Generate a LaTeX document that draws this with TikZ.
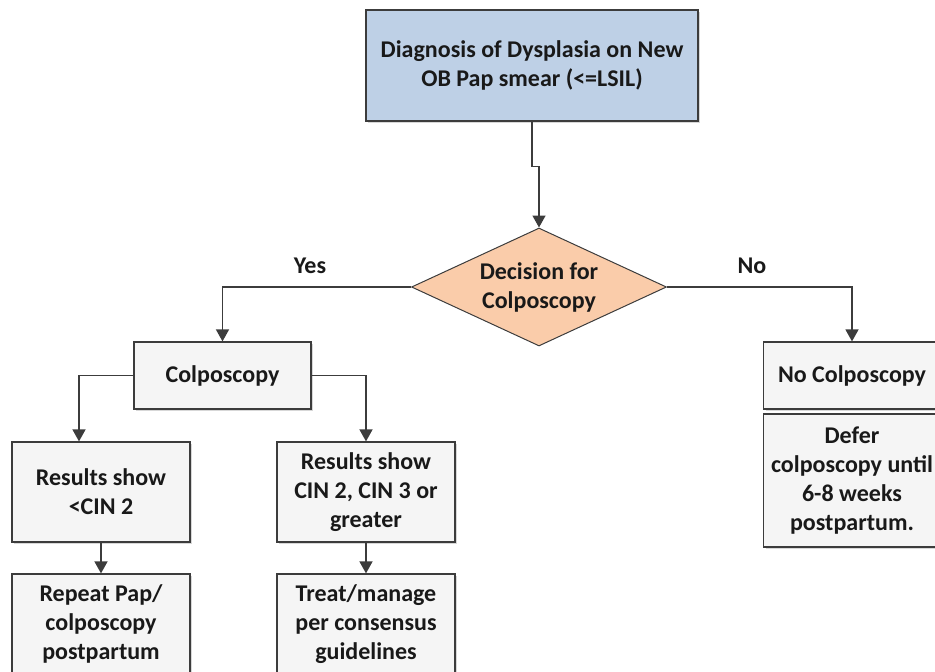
\documentclass[tikz,border=0pt]{standalone}
\usepackage{fontspec}
\setmainfont{Carlito}
\usepackage{xcolor}
\usetikzlibrary{positioning, arrows.meta, shapes.geometric, shadows}

\definecolor{diagblue}{RGB}{190,208,230}
\definecolor{decorange}{RGB}{250,204,170}
\definecolor{lineGray}{RGB}{60,60,60}

\tikzset{
  txt/.style={font=\bfseries\fontsize{24}{29}\selectfont, text=black!90},
  box/.style={txt, draw=lineGray, line width=1.2pt, fill=gray!8, align=center,
    minimum width=178, minimum height=67, inner sep=2pt,
    drop shadow={shadow xshift=2pt, shadow yshift=-2pt, fill=gray!45, opacity=0.7}},
  decision/.style={txt, diamond, draw=lineGray, line width=1pt, fill=decorange,
    align=center, aspect=2.2, inner sep=0pt, minimum width=255, minimum height=118},
  arr/.style={draw=lineGray, line width=1.5pt, -{Triangle[length=12pt,width=13pt]}}
}

\begin{document}
\begin{tikzpicture}[x=1pt, y=-1pt]
\useasboundingbox (0,0) rectangle (935,672);
\clip (0,0) rectangle (935,672);

% top of the chart
\node[box, fill=diagblue, minimum width=332, minimum height=111] (diag) at (532,65.5)
  {Diagnosis of Dysplasia on New\\OB Pap smear (<=LSIL)};
\node[decision] (dec) at (539,287) {Decision for\\Colposcopy};
\node[txt] (yes) at (310,266) {Yes};
\node[txt] (no) at (752,266) {No};

% yes branch
\node[box, minimum width=177] (colp) at (222.5,375.5) {Colposcopy};
\node[box, minimum height=100] (res1) at (101,492) {Results show\\<CIN 2};
\node[box, minimum height=100] (res2) at (366,492) {Results show\\CIN 2, CIN 3 or\\greater};
\node[box, minimum height=100] (rep) at (101,624) {Repeat Pap/\\colposcopy\\postpartum};
\node[box, minimum height=100] (treat) at (366,624) {Treat/manage\\per consensus\\guidelines};

% no branch
\node[box, minimum width=177] (nocolp) at (852,375.5) {No Colposcopy};
\node[box, minimum width=177, minimum height=133] (defer) at (852,480.5)
  {Defer\\colposcopy until\\6-8 weeks\\postpartum.};

\draw[arr] (diag.south) -- ++(0,45) -| (dec.north);
\draw[arr] (dec.west) -| (colp.north);
\draw[arr] (dec.east) -| (nocolp.north);
\draw[arr] (colp.west) -| ([xshift=-22pt]res1.north);
\draw[arr] (colp.east) -| (res2.north);
\draw[arr] (res1) -- (rep);
\draw[arr] (res2) -- (treat);

\end{tikzpicture}
\end{document}
